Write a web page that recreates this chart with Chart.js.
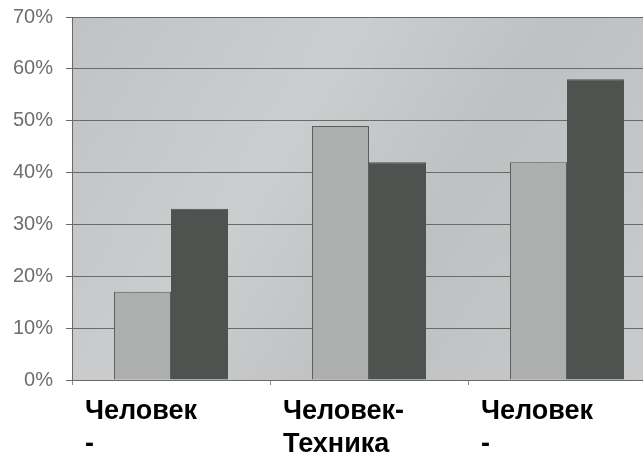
<!DOCTYPE html>
<html>
<head>
<meta charset="utf-8">
<script src="https://cdn.jsdelivr.net/npm/chart.js@4/dist/chart.umd.min.js"></script>
<style>
  html, body { margin: 0; padding: 0; background: #fff; overflow: hidden; }
  #wrap { width: 643px; height: 459px; overflow: hidden; }
  canvas { display: block; }
</style>
</head>
<body>
<div id="wrap"><canvas id="chart" width="680" height="500"></canvas></div>
<script>
const categories = [["Человек", "-"], ["Человек-", "Техника"], ["Человек", "-"]];
const seriesLight = [17, 49, 42];
const seriesDark = [33, 42, 58];
const yTicks = [0, 10, 20, 30, 40, 50, 60, 70];

// fill plot area with the grey background
const plotBackground = {
  id: "plotBackground",
  beforeDraw(chart) {
    const { ctx, chartArea: a } = chart;
    const g = ctx.createLinearGradient(a.left, a.top, a.right, a.bottom);
    g.addColorStop(0, "#c0c2c3");
    g.addColorStop(0.35, "#cbcdcf");
    g.addColorStop(0.6, "#bec0c1");
    g.addColorStop(1, "#c9cbcc");
    ctx.save();
    ctx.fillStyle = g;
    ctx.fillRect(a.left, a.top, a.right - a.left, a.bottom - a.top);
    ctx.restore();
  },
};

new Chart(document.getElementById("chart"), {
  type: "bar",
  data: {
    labels: categories,
    datasets: [
      {
        data: seriesLight,
        backgroundColor: "#adafaf",
        borderColor: "#5a5d5c",
        borderWidth: 1,
      },
      {
        data: seriesDark,
        backgroundColor: "#4e5350",
        borderColor: "#4e5350",
        borderWidth: 1,
      },
    ],
  },
  options: {
    responsive: false,
    animation: false,
    layout: { padding: { top: 17, right: 14, left: 0, bottom: 0 } },
    datasets: { bar: { categoryPercentage: 0.576, barPercentage: 1 } },
    plugins: { legend: { display: false }, tooltip: { enabled: false } },
    scales: {
      x: {
        afterFit: (s) => {
          s.height = 120;
          s.paddingLeft = 0;
          s.paddingRight = 0;
        },
        grid: {
          drawOnChartArea: false,
          tickLength: 5,
          color: "#8a8a8a",
          offset: true,
        },
        border: { color: "#6a6a6a", width: 1 },
        ticks: {
          color: "#000",
          font: { family: "Liberation Sans", size: 27, weight: "bold", lineHeight: 1.22 },
          align: "start",
          labelOffset: -86,
          padding: 10,
          maxRotation: 0,
          autoSkip: false,
        },
      },
      y: {
        min: 0,
        max: 70,
        afterFit: (s) => {
          s.width = 72;
          s.paddingTop = 0;
          s.paddingBottom = 0;
        },
        afterBuildTicks: (s) => { s.ticks = yTicks.map((v) => ({ value: v })); },
        grid: { color: "#6a6a6a", lineWidth: 1, tickLength: 6 },
        border: { color: "#6a6a6a", width: 1 },
        ticks: {
          color: "#6e6e6e",
          font: { family: "Liberation Sans", size: 20 },
          padding: 13,
          callback: (v) => v + "%",
        },
      },
    },
  },
  plugins: [plotBackground],
});
</script>
</body>
</html>
